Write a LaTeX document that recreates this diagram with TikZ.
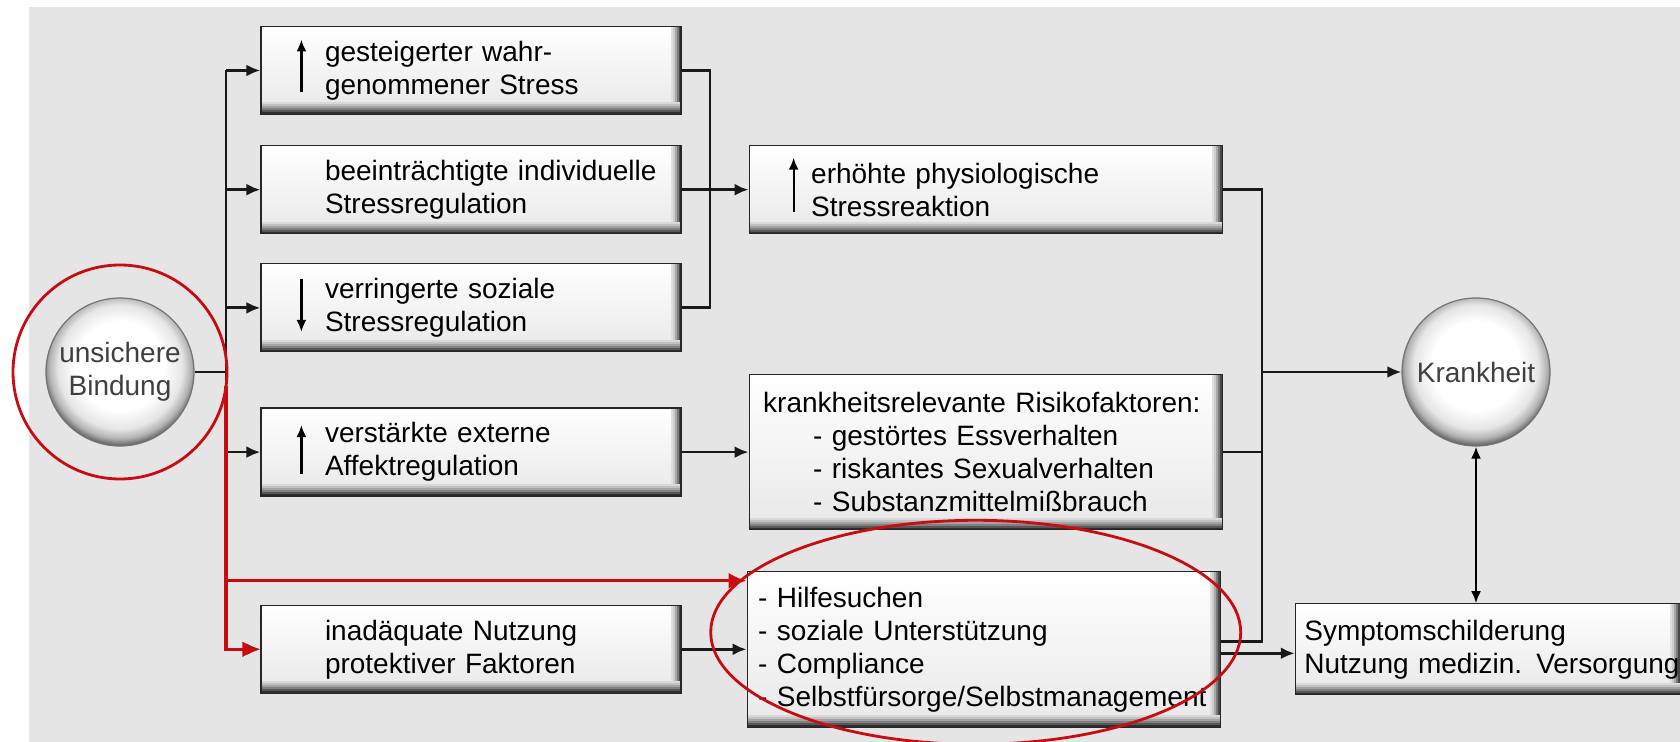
\documentclass[tikz,border=0pt]{standalone}
\usepackage{fontspec}
\setmainfont{Liberation Sans}
\usepackage{tikz}
\usetikzlibrary{arrows.meta, positioning, calc}

\definecolor{panelgray}{RGB}{229,229,229}
\definecolor{markred}{RGB}{200,12,18}

\pgfdeclareradialshading{orb}{\pgfpoint{0bp}{3bp}}{%
  color(0bp)=(white); color(15bp)=(white); color(21bp)=(black!10);
  color(24bp)=(black!30); color(26.5bp)=(black!65); color(28bp)=(black!80);
  color(50bp)=(black!80)}

\begin{document}
\begin{tikzpicture}[
    x=0.5pt, y=-0.5pt,
    font=\fontsize{14}{16.5}\selectfont,
    box/.style={
      draw=black!85,
      line width=0.6pt,
      top color=white,
      bottom color=black!9,
      path picture={
        % bevel along the lower edge
        \foreach \k/\c in {0/82,1/66,2/50,3/36,4/24,5/15}
          \fill[black!\c]
            ([yshift=\k*1pt]path picture bounding box.south west)
            rectangle ([yshift=\k*1pt+1pt]path picture bounding box.south east);
        % bevel along the right edge
        \foreach \k/\c in {0/72,1/52,2/34,3/20,4/12}
          \fill[black!\c]
            ([xshift=-\k*1pt,yshift=6pt]path picture bounding box.south east)
            rectangle ([xshift=-\k*1pt-1pt]path picture bounding box.north east);
      },
      align=left,
      inner xsep=4pt,
      inner ysep=0pt
    },
    narrowbox/.style={box, text width=202pt, minimum height=44pt},
    widebox/.style={box, text width=228.5pt},
    textindent/.style={execute at begin node={\leftskip=#1\relax\rightskip=-30pt plus 1fil\relax}},
    state/.style={
      circle,
      minimum size=74pt,
      inner sep=0pt,
      shading=orb,
      draw=black!55,
      line width=0.6pt,
      align=center,
      text=black!75
    },
    arrow/.style={
      -{Latex[length=7pt,width=6pt]},
      line width=1.4pt,
      draw=black!90
    },
    link/.style={line width=1.4pt, draw=black!90},
    trend/.style={-{Latex[length=6pt,width=5pt]}, line width=1.1pt},
    redarrow/.style={-{Latex[length=9pt,width=8pt]}, line width=1.6pt, draw=markred},
    ring/.style={draw=markred, line width=1.4pt}
  ]

    \useasboundingbox (0,0) rectangle (1680,742);
    \fill[panelgray] (29,7) rectangle (1680,742);

    % Attachment state
    \node[state] (bind) at (120,372) {unsichere\\Bindung};

    % First column: consequences
    \node[narrowbox, textindent=28pt] (stress) at (471,70.5) {gesteigerter wahr-\\genommener Stress};
    \node[narrowbox, textindent=28pt, below=15pt of stress] (regind) {beeinträchtigte individuelle\\Stressregulation};
    \node[narrowbox, textindent=28pt, below=14.5pt of regind] (regsoz) {verringerte soziale\\Stressregulation};
    \node[narrowbox, textindent=28pt, below=27.5pt of regsoz] (affekt) {verstärkte externe\\Affektregulation};
    \node[narrowbox, textindent=28pt, below=54pt of affekt] (inad) {inadäquate Nutzung\\protektiver Faktoren};

    % Second column: pathways
    \node[widebox, minimum height=44pt, textindent=27pt, right=33.5pt of regind] (phys) {erhöhte physiologische\\Stressreaktion};
    \node[widebox, minimum height=77.5pt, textindent=3pt, right=33.5pt of affekt] (risk) {krankheitsrelevante Risikofaktoren:\\
      \hspace*{25pt}- gestörtes Essverhalten\\
      \hspace*{25pt}- riskantes Sexualverhalten\\
      \hspace*{25pt}- Substanzmittelmißbrauch};
    \node[widebox, minimum height=78pt, textindent=1.5pt, right=32.5pt of inad] (schutz) {- Hilfesuchen\\
      - soziale Unterstützung\\
      - Compliance\\
      - Selbstfürsorge/Selbstmanagement};

    % Outcome
    \node[state] (krank) at (1476,372) {Krankheit};
    \node[box, text width=184.5pt, minimum height=45.5pt, textindent=0.5pt, right=37pt of schutz] (symptom) {Symptomschilderung\\Nutzung medizin. Versorgung};

    % Trend arrows inside the boxes
    \draw[trend] ([xshift=20.5pt,yshift=-11pt]stress.west) -- ([xshift=20.5pt,yshift=15.5pt]stress.west);
    \draw[trend] ([xshift=20.5pt,yshift=14.5pt]regsoz.west) -- ([xshift=20.5pt,yshift=-12pt]regsoz.west);
    \draw[trend] ([xshift=20.5pt,yshift=-11pt]affekt.west) -- ([xshift=20.5pt,yshift=13.5pt]affekt.west);
    \draw[trend] ([xshift=22.5pt,yshift=-11pt]phys.west) -- ([xshift=22.5pt,yshift=16pt]phys.west);

    % Branching from the attachment node
    \coordinate (split) at (226,0);
    \coordinate (merge) at (710,0);
    \coordinate (collect) at (1262,0);
    \draw[link] (bind.east) -- (bind.east -| split);
    \draw[link] (split |- stress.west) -- (split |- inad.west);
    \foreach \n in {stress, regind, regsoz, affekt, inad}
      \draw[arrow] (split |- \n.west) -- (\n.west);

    % Stress boxes merge into physiological reaction
    \draw[link] (stress.east) -| (merge |- regsoz.east) -- (regsoz.east);
    \draw[arrow] (regind.east) -- (phys.west);
    \draw[arrow] (affekt.east) -- (affekt.east -| risk.west);
    \draw[arrow] (inad.east) -- (inad.east -| schutz.west);

    % Pathways collected towards illness
    \coordinate (upper) at ([yshift=4pt]schutz.east);
    \draw[link] (phys.east) -| (collect |- upper) -- (upper);
    \draw[link] (risk.east) -- (risk.east -| collect);
    \draw[arrow] (krank.west -| collect) -- (krank.west);
    \draw[arrow] ([yshift=-2pt]schutz.east) -- ([yshift=-2pt]schutz.east -| symptom.west);
    \draw[{Latex[length=6pt,width=5pt]}-{Latex[length=6pt,width=5pt]}, line width=1.1pt]
      (krank.south) -- (krank.south |- symptom.north);

    % Red highlighting
    \coordinate (hilfe) at ([yshift=-5pt]schutz.north west);
    \draw[redarrow] ([yshift=-7pt]split |- bind.east) -- (split |- inad.west) -- (inad.west);
    \draw[redarrow] (split |- hilfe) -- (hilfe);
    \draw[ring] (bind) circle[radius=107];
    \draw[ring] ($(schutz.center)+(-8,-17)$) ellipse [x radius=265, y radius=112];

  \end{tikzpicture}
\end{document}
